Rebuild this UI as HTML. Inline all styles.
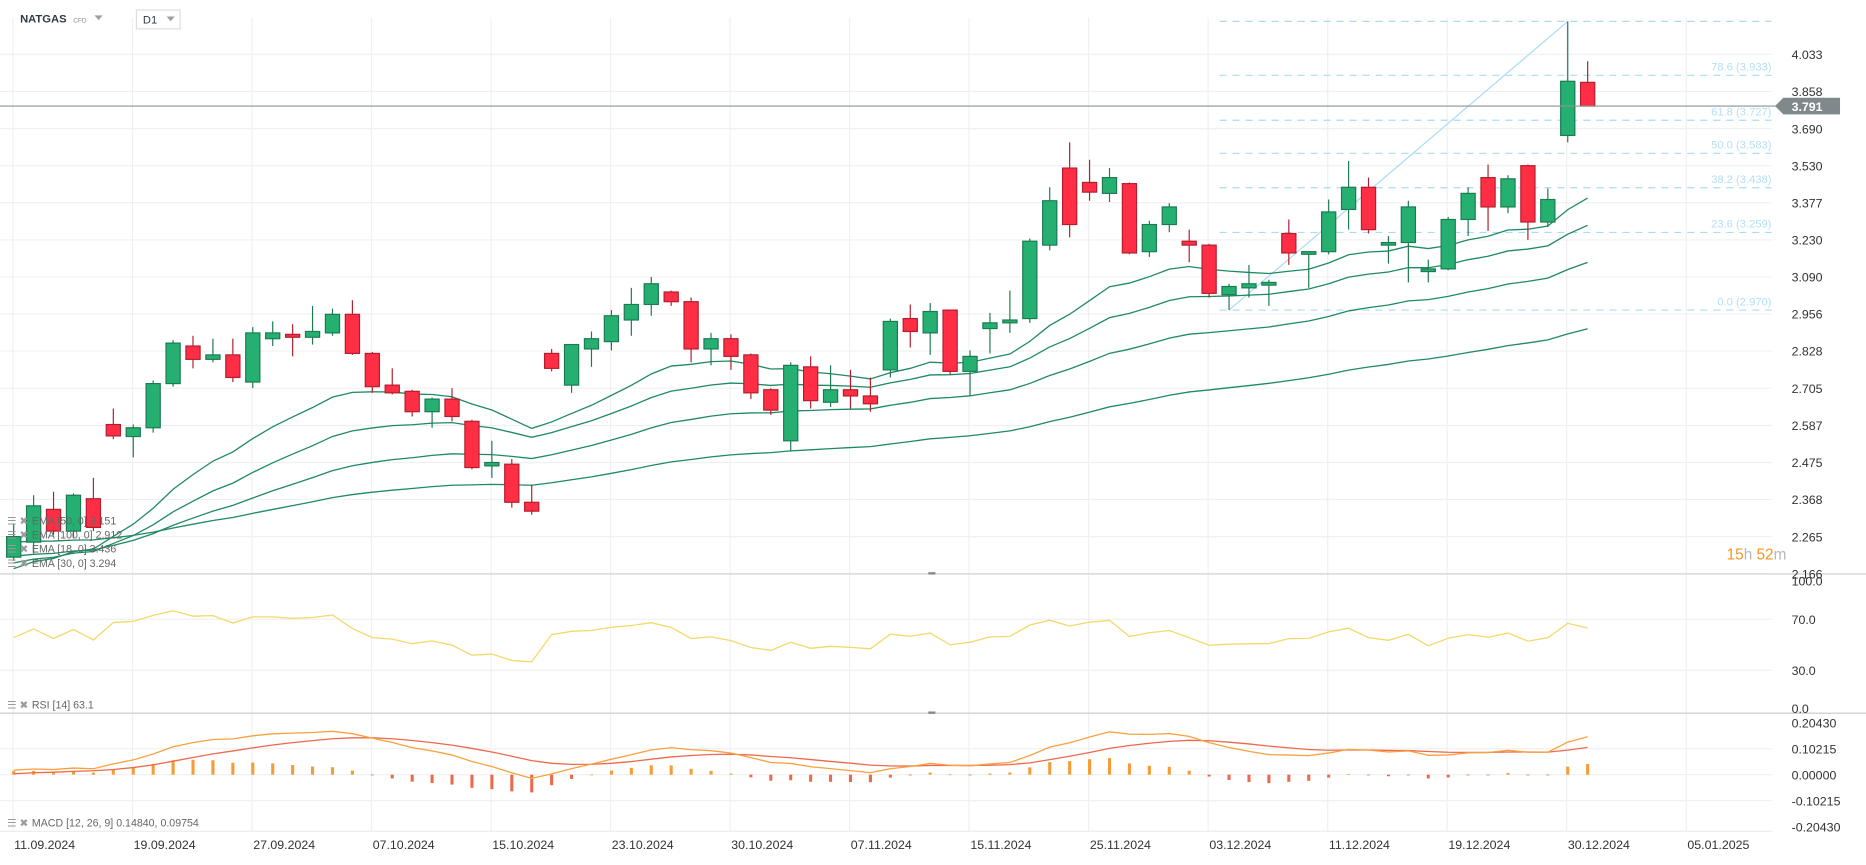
<!DOCTYPE html>
<html><head><meta charset="utf-8"><title>NATGAS D1</title>
<style>
html,body{margin:0;padding:0;background:#fff;}
svg{display:block;font-family:"Liberation Sans",sans-serif;}
</style></head>
<body>
<svg id="chart" width="1866" height="865" viewBox="0 0 1580 732.5" preserveAspectRatio="none" xmlns="http://www.w3.org/2000/svg">
<rect x="0" y="0" width="1580" height="732.5" fill="#ffffff"/>
<g id="grid"></g>
<g id="fib"></g>
<g id="emas"></g>
<g id="candles"></g>
<g id="rsi"></g>
<g id="macd"></g>
<g id="axes"></g>
<g>
  <text x="17" y="19" font-size="9.5" font-weight="bold" fill="#2d3b45">NATGAS</text>
  <text x="62" y="19" font-size="5.5" fill="#8a8f94">CFD</text>
  <path d="M80 13 L87 13 L83.5 17 Z" fill="#9aa0a5"/>
</g>
<g>
  <rect x="115.5" y="8.5" width="37" height="16" fill="#fff" stroke="#dddddd"/>
  <text x="121" y="20" font-size="9.5" fill="#2d3b45">D1</text>
  <path d="M141 14 L148 14 L144.5 18 Z" fill="#9aa0a5"/>
</g>
<g font-size="13">
  <text x="1462" y="474"><tspan fill="#f7931e">15</tspan><tspan fill="#b8b8b8">h</tspan><tspan fill="#f7931e"> 52</tspan><tspan fill="#b8b8b8">m</tspan></text>
</g>
<g font-size="9" fill="#666">
  <text x="6" y="444" fill="#999">☰ ✖</text><text x="27" y="444">EMA [50, 0] 3.151</text>
  <text x="6" y="456" fill="#999">☰ ✖</text><text x="27" y="456">EMA [100, 0] 2.912</text>
  <text x="6" y="468" fill="#999">☰ ✖</text><text x="27" y="468">EMA [18, 0] 3.436</text>
  <text x="6" y="480" fill="#999">☰ ✖</text><text x="27" y="480">EMA [30, 0] 3.294</text>
  <text x="6" y="600" fill="#999">☰ ✖</text><text x="27" y="600">RSI [14] 63.1</text>
  <text x="6" y="700" fill="#999">☰ ✖</text><text x="27" y="700">MACD [12, 26, 9] 0.14840, 0.09754</text>
</g>
</svg>
<script>
const opens  = [2.21,2.25,2.34,2.28,2.37,2.59,2.553,2.58,2.72,2.845,2.80,2.815,2.725,2.87,2.885,2.875,2.89,2.955,2.82,2.715,2.695,2.63,2.67,2.60,2.465,2.47,2.36,2.82,2.715,2.835,2.86,2.935,2.99,3.035,3.00,2.835,2.87,2.815,2.70,2.54,2.775,2.66,2.70,2.68,2.765,2.94,2.89,2.97,2.76,2.905,2.925,2.94,3.21,3.52,3.46,3.415,3.455,3.185,3.29,3.225,3.21,3.025,3.05,3.06,3.255,3.175,3.185,3.35,3.44,3.21,3.22,3.11,3.12,3.31,3.48,3.36,3.53,3.30,3.66,3.90];
const highs  = [2.30,2.38,2.39,2.385,2.43,2.64,2.59,2.73,2.865,2.88,2.87,2.87,2.91,2.93,2.92,2.985,2.975,3.005,2.825,2.77,2.70,2.675,2.705,2.605,2.54,2.485,2.41,2.835,2.85,2.895,2.97,3.05,3.09,3.04,3.015,2.89,2.885,2.82,2.705,2.79,2.81,2.78,2.765,2.74,2.94,2.99,2.995,2.97,2.83,2.96,3.04,3.235,3.44,3.63,3.555,3.52,3.46,3.305,3.375,3.27,3.215,3.065,3.135,3.08,3.31,3.185,3.39,3.55,3.48,3.245,3.385,3.155,3.32,3.44,3.535,3.49,3.535,3.435,4.195,4.00];
const lows   = [2.20,2.22,2.27,2.26,2.28,2.545,2.49,2.565,2.71,2.77,2.79,2.725,2.705,2.845,2.81,2.85,2.88,2.815,2.69,2.685,2.615,2.58,2.60,2.455,2.43,2.345,2.325,2.76,2.69,2.775,2.83,2.88,2.95,2.985,2.79,2.78,2.765,2.67,2.62,2.51,2.64,2.645,2.64,2.63,2.74,2.84,2.815,2.75,2.68,2.82,2.89,2.925,3.19,3.24,3.385,3.38,3.175,3.165,3.26,3.145,3.015,2.97,3.015,2.985,3.135,3.05,3.175,3.27,3.255,3.14,3.07,3.07,3.115,3.245,3.265,3.335,3.23,3.28,3.63,3.79];
const closes = [2.265,2.35,2.28,2.38,2.29,2.555,2.58,2.72,2.855,2.80,2.815,2.74,2.89,2.89,2.875,2.895,2.955,2.82,2.71,2.69,2.63,2.67,2.615,2.46,2.475,2.36,2.335,2.77,2.85,2.87,2.95,2.99,3.065,3.00,2.835,2.87,2.81,2.69,2.635,2.78,2.665,2.70,2.68,2.655,2.93,2.895,2.965,2.76,2.81,2.925,2.935,3.225,3.385,3.29,3.42,3.48,3.18,3.29,3.36,3.21,3.03,3.055,3.065,3.07,3.18,3.185,3.34,3.44,3.27,3.22,3.36,3.12,3.31,3.415,3.36,3.475,3.30,3.39,3.905,3.791];
const priceTicks = [4.033,3.858,3.690,3.530,3.377,3.230,3.090,2.956,2.828,2.705,2.587,2.475,2.368,2.265,2.166];
const dateLabels = ["11.09.2024","19.09.2024","27.09.2024","07.10.2024","15.10.2024","23.10.2024","30.10.2024","07.11.2024","15.11.2024","25.11.2024","03.12.2024","11.12.2024","19.12.2024","30.12.2024","05.01.2025"];
const emaPeriods = [18,30,50,100];
const emaSeeds = [2.17,2.19,2.21,2.25];
const rsiTicks = [100,70,30,0];
const rsiSeedGainLoss = [0.02,0.016];
const macdTicks = [0.20430,0.10215,0,-0.10215,-0.20430];
const macdSeedOffsets = [0.012,-0.008];
const fibLevels = [0,23.6,38.2,50.0,61.8,78.6,100];
const lastPrice = 3.791;
const fibLowIndex = 61, fibHighIndex = 78;

const NS="http://www.w3.org/2000/svg";
function mk(tag,attrs,parent){const e=document.createElementNS(NS,tag);for(const k in attrs)e.setAttribute(k,attrs[k]);parent.appendChild(e);return e;}
const X0=11.6, DX=16.87, XR=1500;
const xOf=i=>X0+DX*i;
const yP=p=>46+707.9*Math.log(4.033/p);
const yR=v=>600-1.08*v;
const yM=v=>656-215.4*v;

const gGrid=document.getElementById('grid'), gAx=document.getElementById('axes');
priceTicks.forEach(p=>{const l=mk('line',{x1:0,x2:XR,y1:yP(p),y2:yP(p),stroke:'#f0f0f0','stroke-width':1},gGrid);

});
[70,30].forEach(v=>{const l=mk('line',{x1:0,x2:XR,y1:yR(v),y2:yR(v),stroke:'#f0f0f0'},gGrid);

});
[0.10215,0,-0.10215].forEach(v=>{const l=mk('line',{x1:0,x2:XR,y1:yM(v),y2:yM(v),stroke:'#f0f0f0'},gGrid);

});
dateLabels.forEach((d,k)=>{const x=11+101.2*k;const l=mk('line',{x1:x,x2:x,y1:15,y2:704,stroke:'#f0f0f0'},gGrid);


const t=mk('text',{x:x+1,y:719,'font-size':10.5,fill:'#333'},gAx);t.textContent=d;

});
[[486,'main-rsi-separator'],[604,'rsi-macd-separator']].forEach(([y,n])=>{const l=mk('line',{x1:0,x2:1580,y1:y,y2:y,stroke:'#d5d5d5','stroke-width':1.2},gAx);


const h=mk('rect',{x:786,y:y-1.5,width:6,height:2,fill:'#888'},gAx);

});
const bl=mk('line',{x1:0,x2:1500,y1:704,y2:704,stroke:'#ececec'},gAx);


priceTicks.forEach(p=>{const t=mk('text',{x:1517,y:yP(p)+4,'font-size':10.5,fill:'#333'},gAx);t.textContent=p.toFixed(3);

});
rsiTicks.forEach(v=>{const t=mk('text',{x:1517,y:yR(v)+4,'font-size':10.5,fill:'#333'},gAx);t.textContent=v.toFixed(1);

});
macdTicks.forEach(v=>{const t=mk('text',{x:1517,y:yM(v)+4,'font-size':10.5,fill:'#333'},gAx);t.textContent=v.toFixed(5);

});

const gF=document.getElementById('fib');
const lo=lows[fibLowIndex], hi=highs[fibHighIndex];
const fx1=xOf(fibLowIndex)-8;
fibLevels.forEach(lv=>{const p=lo+(hi-lo)*lv/100;const y=yP(p);
const l=mk('line',{x1:fx1,x2:XR,y1:y,y2:y,stroke:'#a8dcf5','stroke-width':1,'stroke-dasharray':'6,5'},gF);


if(lv<100){const t=mk('text',{x:1500,y:y-4,'text-anchor':'end','font-size':9.5,fill:'#b5def3'},gF);t.textContent=lv.toFixed(1)+' ('+p.toFixed(3)+')';

}});
const tl=mk('line',{x1:xOf(fibLowIndex),y1:yP(lo),x2:xOf(fibHighIndex),y2:yP(hi),stroke:'#a8dcf5','stroke-width':1},gF);



const gE=document.getElementById('emas');
emaPeriods.forEach((per,k)=>{const a=2/(per+1);let e=emaSeeds[k];const pts=[];
closes.forEach((c,i)=>{e=a*c+(1-a)*e;pts.push(xOf(i).toFixed(1)+','+yP(e).toFixed(1));});
const pl=mk('polyline',{points:pts.join(' '),fill:'none',stroke:'#1f8a62','stroke-width':1.1},gE);

});

const cp=mk('line',{x1:0,x2:1504,y1:yP(lastPrice),y2:yP(lastPrice),stroke:'#8a9396','stroke-width':1},gAx);


const yl=yP(lastPrice);
const tag=mk('path',{d:`M1503 ${yl} L1510 ${yl-7} L1558 ${yl-7} L1558 ${yl+7} L1510 ${yl+7} Z`,fill:'#7f898c'},gAx);


const tt=mk('text',{x:1517,y:yl+4,'font-size':10.5,'font-weight':'bold',fill:'#fff'},gAx);tt.textContent=lastPrice.toFixed(3);



const gC=document.getElementById('candles');
closes.forEach((c,i)=>{const o=opens[i],up=c>=o;const x=xOf(i);
const fill=up?'#25b072':'#ff2e44', st=up?'#1b7a50':'#b21e2d';
const w=mk('line',{x1:x,x2:x,y1:yP(highs[i]),y2:yP(lows[i]),stroke:st,'stroke-width':1},gC);


const yt=yP(Math.max(o,c)), yb=yP(Math.min(o,c));
const b=mk('rect',{x:x-6,y:yt,width:12,height:Math.max(1.5,yb-yt),fill:fill,stroke:st,'stroke-width':1},gC);

});

const gR=document.getElementById('rsi');
let ag=rsiSeedGainLoss[0], al=rsiSeedGainLoss[1];const rp=[];
closes.forEach((c,i)=>{if(i>0){const d=c-closes[i-1];ag=(ag*13+Math.max(d,0))/14;al=(al*13+Math.max(-d,0))/14;}
const r=100-100/(1+ag/al);rp.push(xOf(i).toFixed(1)+','+yR(r).toFixed(1));});
const rl=mk('polyline',{points:rp.join(' '),fill:'none',stroke:'#f3d96b','stroke-width':1.1},gR);



const gM=document.getElementById('macd');
let e12=closes[0]+macdSeedOffsets[0], e26=closes[0]+macdSeedOffsets[1], sig=0;const mp=[],sp=[];
closes.forEach((c,i)=>{e12=2/13*c+11/13*e12;e26=2/27*c+25/27*e26;const m=e12-e26;sig=0.2*m+0.8*sig;const h=m-sig;
const x=xOf(i);
const bar=mk('rect',{x:x-1.3,y:Math.min(yM(h),yM(0)),width:2.6,height:Math.max(0.6,Math.abs(yM(h)-yM(0))),fill:h>=0?'#f89b35':'#ec6a4c'},gM);


mp.push(x.toFixed(1)+','+yM(m).toFixed(1));sp.push(x.toFixed(1)+','+yM(sig).toFixed(1));});
const sl=mk('polyline',{points:sp.join(' '),fill:'none',stroke:'#ec6a4c','stroke-width':1.1},gM);


const ml=mk('polyline',{points:mp.join(' '),fill:'none',stroke:'#f8a23f','stroke-width':1.1},gM);


</script>
</body></html>
